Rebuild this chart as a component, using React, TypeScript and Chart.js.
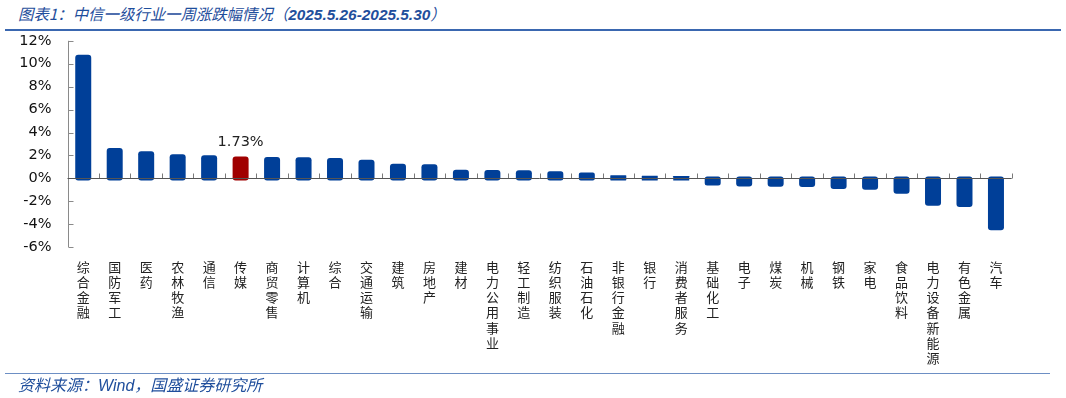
import React, { useEffect, useRef } from 'react';
import { Chart, registerables } from 'chart.js';

Chart.register(...registerables);

const categories = [
  '综合金融', '国防军工', '医药', '农林牧渔', '通信', '传媒', '商贸零售', '计算机', '综合', '交通运输',
  '建筑', '房地产', '建材', '电力公用事业', '轻工制造', '纺织服装', '石油石化', '非银行金融', '银行', '消费者服务',
  '基础化工', '电子', '煤炭', '机械', '钢铁', '家电', '食品饮料', '电力设备新能源', '有色金属', '汽车',
];
const weeklyChange = [
  10.6, 2.48, 2.19, 1.93, 1.84, 1.73, 1.69, 1.66, 1.6, 1.45,
  1.1, 1.05, 0.58, 0.55, 0.53, 0.44, 0.35, 0.11, 0.05, 0.03,
  -0.44, -0.53, -0.56, -0.57, -0.76, -0.82, -1.17, -2.22, -2.31, -4.35,
];
const highlightCategory = '传媒';
const highlightLabel = '1.73%';
const yTicks = [-6, -4, -2, 0, 2, 4, 6, 8, 10, 12];
const titleText = '图表1：中信一级行业一周涨跌幅情况（';
const titleDates = '2025.5.26-2025.5.30';
const titleEnd = '）';
const sourcePre = '资料来源：';
const sourceWind = 'Wind';
const sourcePost = '，国盛证券研究所';

const BLUE = '#003f98';
const RED = '#a00000';
const TEXT_BLUE = '#1f4e9c';

const customAxes = {
  id: 'customAxes',
  afterDatasetsDraw(chart: any) {
    const { ctx, chartArea, scales } = chart;
    const xs = scales.x;
    const ys = scales.y;
    ctx.save();
    ctx.lineWidth = 1;
    ctx.strokeStyle = '#8a8a8a';
    const ax = Math.round(chartArea.left) + 0.5;
    ctx.beginPath();
    ctx.moveTo(ax, ys.getPixelForValue(yTicks[yTicks.length - 1]));
    ctx.lineTo(ax, ys.getPixelForValue(yTicks[0]));
    yTicks.forEach((v) => {
      const py = Math.round(ys.getPixelForValue(v)) + 0.5;
      ctx.moveTo(ax, py);
      ctx.lineTo(ax + 5, py);
    });
    ctx.stroke();

    const y0 = Math.round(ys.getPixelForValue(0)) + 0.5;
    const step = xs.width / categories.length;
    ctx.beginPath();
    ctx.strokeStyle = '#7a7a7a';
    for (let i = 1; i <= categories.length; i++) {
      const px = Math.round(xs.getPixelForValue(i - 1) + step / 2) + 0.5;
      ctx.moveTo(px, y0);
      ctx.lineTo(px, y0 - 5);
    }
    ctx.stroke();

    ctx.beginPath();
    ctx.strokeStyle = '#555555';
    ctx.moveTo(chartArea.left, y0);
    ctx.lineTo(chartArea.right, y0);
    ctx.stroke();

    const meta = chart.getDatasetMeta(0);
    const el = meta.data[categories.indexOf(highlightCategory)];
    if (el) {
      ctx.fillStyle = '#222222';
      ctx.font = '14.5px "DejaVu Sans"';
      ctx.textAlign = 'center';
      ctx.textBaseline = 'alphabetic';
      ctx.fillText(highlightLabel, el.x, el.y - 12.5);
    }
    ctx.restore();
  },
};

export default function App() {
  const canvasRef = useRef<HTMLCanvasElement | null>(null);

  useEffect(() => {
    if (!canvasRef.current) return;
    const chart = new Chart(canvasRef.current, {
      type: 'bar',
      data: {
        labels: categories.map((c) => c.split('')),
        datasets: [
          {
            data: weeklyChange,
            backgroundColor: categories.map((c) => (c === highlightCategory ? RED : BLUE)),
            barThickness: 12,
            inflateAmount: 2,
            borderRadius: 3,
            borderSkipped: false,
            borderWidth: 0,
          } as any,
        ],
      },
      options: {
        responsive: false,
        devicePixelRatio: 1,
        animation: false,
        layout: { padding: { top: 40.8, left: 0, right: 54.3, bottom: 30.8 } },
        plugins: { legend: { display: false }, tooltip: { enabled: false } },
        scales: {
          x: {
            grid: { display: false, drawTicks: false },
            border: { display: false },
            ticks: {
              autoSkip: false,
              maxRotation: 0,
              minRotation: 0,
              padding: 12,
              color: '#222222',
              font: { family: '"Noto Sans CJK SC"', size: 13, lineHeight: 1.17 },
            },
            afterFit: (s: any) => {
              s.height = 120;
            },
          },
          y: {
            min: -6,
            max: 12,
            grid: { display: false, drawTicks: false },
            border: { display: false },
            ticks: {
              stepSize: 2,
              padding: 16,
              color: '#111111',
              font: { family: '"DejaVu Sans"', size: 14.5 },
              callback: (v: any) => `${v}%`,
            },
            afterFit: (s: any) => {
              s.width = 67.5;
            },
          },
        },
      },
      plugins: [customAxes],
    });
    return () => chart.destroy();
  }, []);

  const textStyle: React.CSSProperties = {
    position: 'absolute',
    left: 18,
    color: TEXT_BLUE,
    fontStyle: 'italic',
    fontFamily: '"Noto Sans CJK SC", sans-serif',
    whiteSpace: 'nowrap',
    lineHeight: '20px',
  };

  return (
    <div style={{ position: 'absolute', left: 0, top: 0, width: 1066, height: 398, background: '#fff', overflow: 'hidden' }}>
      <div style={{ ...textStyle, top: 3, fontSize: 15.4 }}>
        {titleText}
        <span style={{ fontFamily: '"Liberation Sans", sans-serif', fontWeight: 'bold' }}>{titleDates}</span>
        {titleEnd}
      </div>
      <div style={{ position: 'absolute', left: 5, top: 29, width: 1056, height: 1.5, background: '#3a67b0' }} />
      <canvas ref={canvasRef} width={1066} height={398} style={{ position: 'absolute', left: 0, top: 0 }} />
      <div style={{ position: 'absolute', left: 5, top: 372.5, width: 1045, height: 1.5, background: '#6d8fc4' }} />
      <div style={{ ...textStyle, top: 374, fontSize: 16 }}>
        {sourcePre}
        <span style={{ fontFamily: '"Liberation Sans", sans-serif' }}>{sourceWind}</span>
        {sourcePost}
      </div>
    </div>
  );
}
